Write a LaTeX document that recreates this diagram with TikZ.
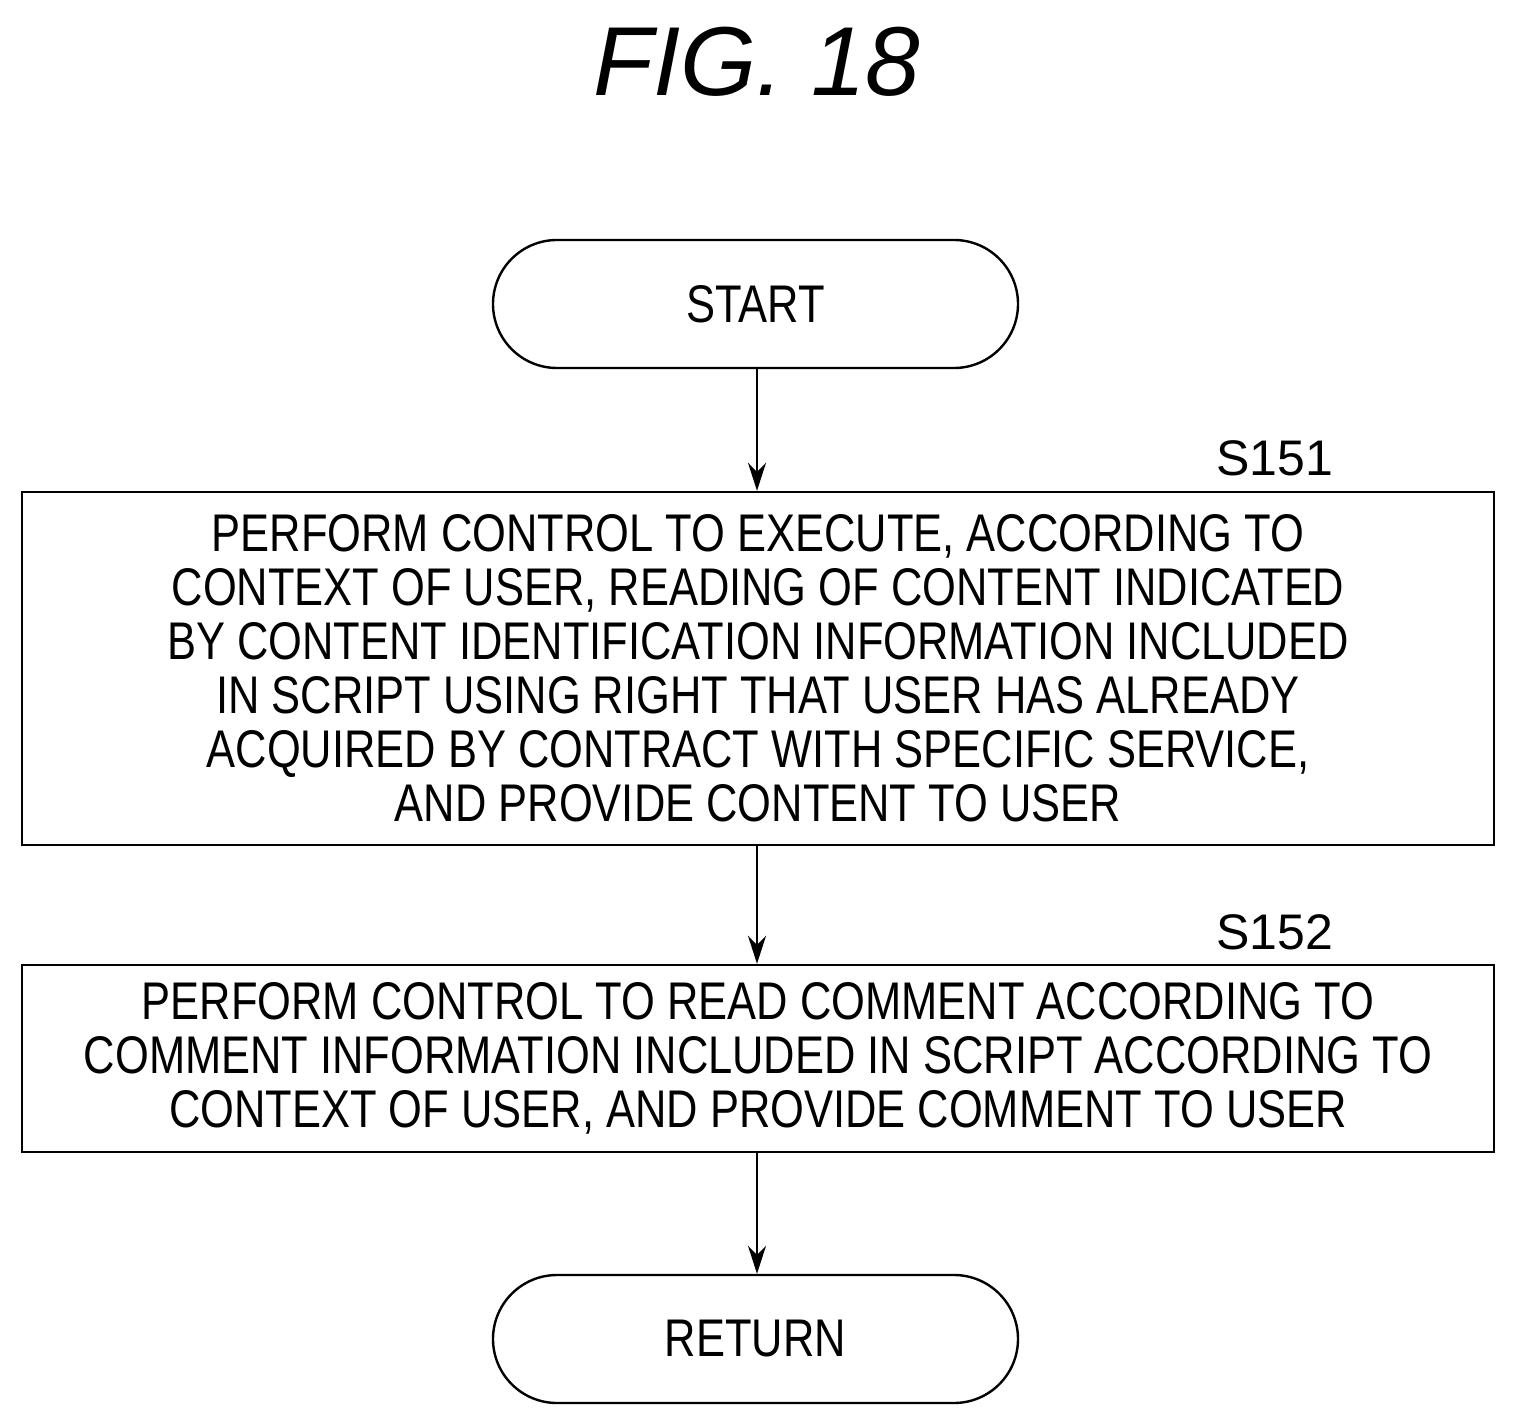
\documentclass[tikz,border=0pt]{standalone}
\usepackage{fontspec}
\setmainfont{Liberation Sans}
\newfontfamily\narrowf[FakeStretch=0.82]{Liberation Sans}
\usetikzlibrary{arrows.meta}
\begin{document}
\begin{tikzpicture}[x=0.5pt,y=-0.5pt,
  term/.style={draw,line width=1.2pt,rounded corners=32pt,minimum width=262.5pt,minimum height=64pt,font=\narrowf\fontsize{26.5pt}{27pt}\selectfont},
  box/.style={draw,line width=1.2pt,minimum width=736pt,align=center,font=\narrowf\fontsize{26.5pt}{27pt}\selectfont},
  lab/.style={font=\fontsize{25pt}{27pt}\selectfont},
  arr/.style={line width=1.2pt,-{Stealth[length=14pt,width=9pt]}}]
\useasboundingbox (0,0) rectangle (1516,1428);
\node[font=\itshape\fontsize{49pt}{50pt}\selectfont] (title) at (757,62) {FIG. 18};
\node[term] (start) at (755.5,304) {START};
\node[box,minimum height=176.5pt] (s151) at (758,668.5) {PERFORM CONTROL TO EXECUTE, ACCORDING TO\\CONTEXT OF USER, READING OF CONTENT INDICATED\\BY CONTENT IDENTIFICATION INFORMATION INCLUDED\\IN SCRIPT USING RIGHT THAT USER HAS ALREADY\\ACQUIRED BY CONTRACT WITH SPECIFIC SERVICE,\\AND PROVIDE CONTENT TO USER};
\node[box,minimum height=93.5pt] (s152) at (758,1058.5) {PERFORM CONTROL TO READ COMMENT ACCORDING TO\\COMMENT INFORMATION INCLUDED IN SCRIPT ACCORDING TO\\CONTEXT OF USER, AND PROVIDE COMMENT TO USER};
\node[term] (ret) at (755.5,1339) {RETURN};
\node[lab] (l151) at (1275,458) {S151};
\node[lab] (l152) at (1275,932) {S152};
\draw[arr] (start.south -| 757,0) -- (s151.north -| 757,0);
\draw[arr] (s151.south -| 757,0) -- (s152.north -| 757,0);
\draw[arr] (s152.south -| 757,0) -- (ret.north -| 757,0);
\end{tikzpicture}
\end{document}
